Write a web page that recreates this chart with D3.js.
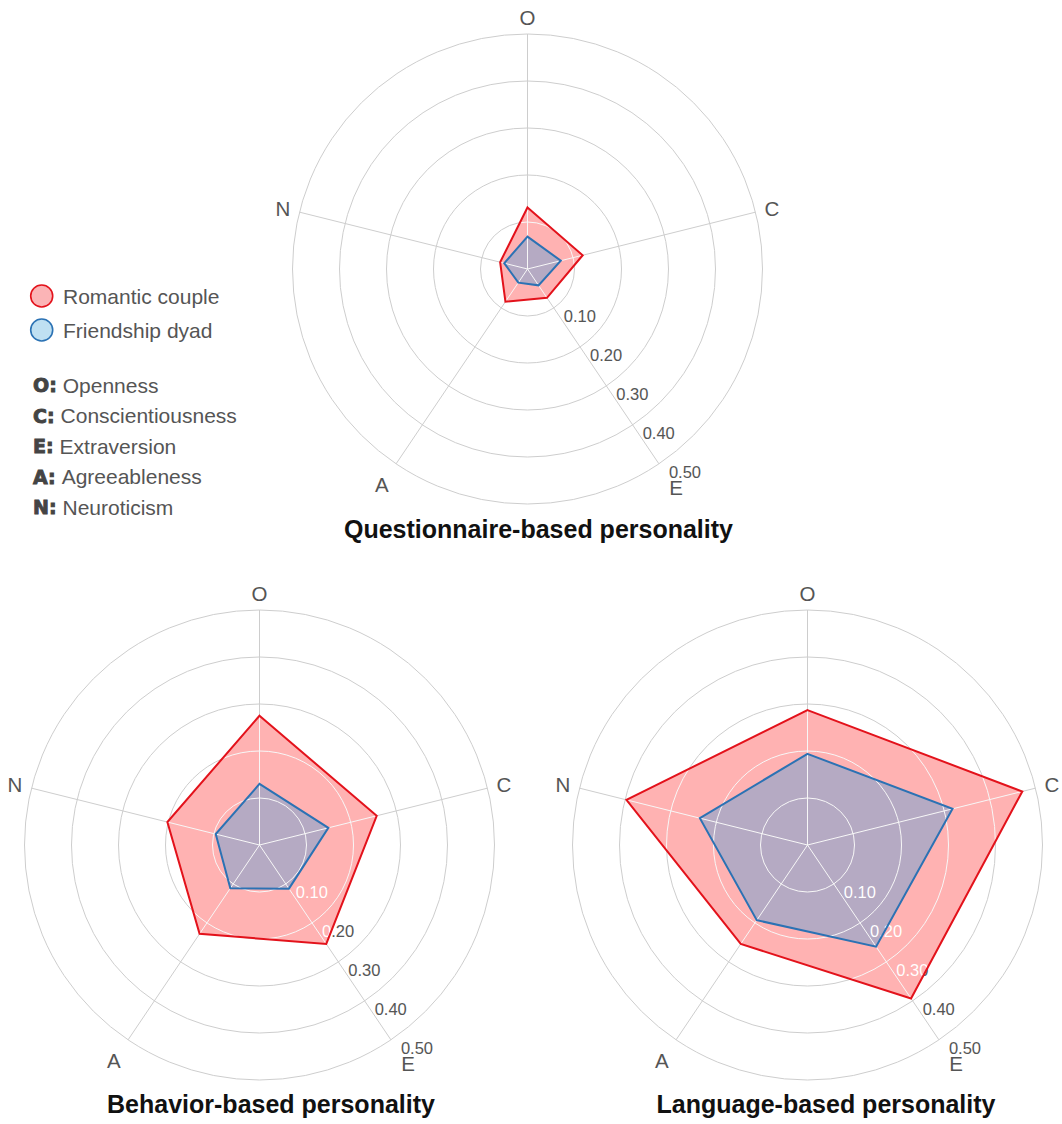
<!DOCTYPE html>
<html>
<head>
<meta charset="utf-8">
<script src="https://cdn.jsdelivr.net/npm/d3@7"></script>
<style>
  html, body { margin: 0; padding: 0; background: #ffffff; }
  svg { display: block; font-family: "Liberation Sans", Arial, Helvetica, sans-serif; }
</style>
</head>
<body>
<svg id="chart" width="1062" height="1124"></svg>
<script>
// ---- data ----
const traits = ["O", "C", "E", "A", "N"];
const traitNames = ["Openness", "Conscientiousness", "Extraversion", "Agreeableness", "Neuroticism"];
const seriesNames = ["Romantic couple", "Friendship dyad"];
const tickValues = [0.1, 0.2, 0.3, 0.4, 0.5];
const tickLabels = ["0.10", "0.20", "0.30", "0.40", "0.50"];
const panelTitles = ["Questionnaire-based personality", "Behavior-based personality", "Language-based personality"];

const questionnaireRomantic   = [0.131, 0.121, 0.074, 0.084, 0.060];
const questionnaireFriendship = [0.069, 0.073, 0.042, 0.035, 0.051];
const behaviorRomantic        = [0.275, 0.257, 0.254, 0.228, 0.202];
const behaviorFriendship      = [0.130, 0.151, 0.112, 0.111, 0.096];
const languageRomantic        = [0.287, 0.471, 0.394, 0.254, 0.397];
const languageFriendship      = [0.194, 0.318, 0.261, 0.193, 0.236];

// ---- layout & style ----
const R = 235;
const axisAngleDeg = [0, 76, 146, 214, 284];
const gridColor = "#cdcdcd";
const gridInside = "#f7f7f7";
const textGray = "#555555";
const seriesStyle = [
  { fill: "rgba(255,0,0,0.30)", stroke: "#e3121b", legendFill: "#fbb4b6" },
  { fill: "rgba(90,160,215,0.45)", stroke: "#2b72b4", legendFill: "#bfe0f2" }
];

const panels = [
  { title: panelTitles[0], cx: 527.5, cy: 269, tx: 538.5, ty: 538, series: [questionnaireRomantic, questionnaireFriendship] },
  { title: panelTitles[1], cx: 259.5, cy: 845, tx: 271,   ty: 1113, series: [behaviorRomantic, behaviorFriendship] },
  { title: panelTitles[2], cx: 807.5, cy: 845, tx: 826,   ty: 1113, series: [languageRomantic, languageFriendship] }
];

const svg = d3.select("#chart");
const defs = svg.append("defs");

const rScale = d3.scaleLinear().domain([0, 0.5]).range([0, R]);
const angleScale = d3.scaleOrdinal()
  .domain(traits)
  .range(axisAngleDeg.map(d => d * Math.PI / 180));

const radarLine = d3.lineRadial()
  .angle((d, i) => angleScale(traits[i]))
  .radius(d => rScale(d))
  .curve(d3.curveLinearClosed);

const polar = (a, rad) => [rad * Math.sin(a), -rad * Math.cos(a)];
const tickAxis = traits[2]; // value labels run along the E spoke

// Paint that is one colour outside the outer area and another inside it,
// so grid lines and value labels turn white where they cross the filled area.
function twoTonePaint(id, outside, inside, areaPath) {
  const half = 420;
  const pat = defs.append("pattern")
    .attr("id", id)
    .attr("patternUnits", "userSpaceOnUse")
    .attr("x", -half).attr("y", -half)
    .attr("width", 2 * half).attr("height", 2 * half);
  pat.append("rect")
    .attr("width", 2 * half).attr("height", 2 * half)
    .attr("fill", outside);
  pat.append("path")
    .attr("transform", `translate(${half},${half})`)
    .attr("d", areaPath)
    .attr("fill", inside);
  return `url(#${id})`;
}

// distance of each axis letter from the centre
const letterRadius = a => R + 17 + 10 * Math.max(0, -Math.cos(a));

panels.forEach((p, pi) => {
  const g = svg.append("g").attr("transform", `translate(${p.cx},${p.cy})`);
  const outer = radarLine(p.series[0]);
  const gridPaint = twoTonePaint("grid-paint-" + pi, gridColor, gridInside, outer);
  const labelPaint = twoTonePaint("label-paint-" + pi, textGray, "#ffffff", outer);

  // filled areas
  p.series.forEach((vals, si) => {
    g.append("path")
      .attr("d", radarLine(vals))
      .attr("fill", seriesStyle[si].fill)
      .attr("stroke", "none");
  });

  // rings
  g.selectAll("circle.ring")
    .data(tickValues)
    .join("circle")
    .attr("class", "ring")
    .attr("r", d => rScale(d))
    .attr("fill", "none")
    .attr("stroke", gridPaint)
    .attr("stroke-width", 1);

  // spokes
  g.selectAll("line.spoke")
    .data(traits)
    .join("line")
    .attr("class", "spoke")
    .attr("x1", 0).attr("y1", 0)
    .attr("x2", d => polar(angleScale(d), R)[0])
    .attr("y2", d => polar(angleScale(d), R)[1])
    .attr("stroke", gridPaint)
    .attr("stroke-width", 1);

  // value labels along the E spoke
  g.selectAll("text.tick")
    .data(tickValues)
    .join("text")
    .attr("class", "tick")
    .attr("x", d => polar(angleScale(tickAxis), rScale(d))[0] + 10)
    .attr("y", d => polar(angleScale(tickAxis), rScale(d))[1] + 8)
    .attr("dominant-baseline", "central")
    .attr("font-size", 16.5)
    .attr("fill", labelPaint)
    .text((d, i) => tickLabels[i]);

  // outlines
  p.series.forEach((vals, si) => {
    g.append("path")
      .attr("d", radarLine(vals))
      .attr("fill", "none")
      .attr("stroke", seriesStyle[si].stroke)
      .attr("stroke-width", 2)
      .attr("stroke-linejoin", "miter");
  });

  // axis letters
  g.selectAll("text.axis")
    .data(traits)
    .join("text")
    .attr("class", "axis")
    .attr("x", d => { const a = angleScale(d); return polar(a, letterRadius(a))[0] + (d === "E" ? 3 : 0); })
    .attr("y", d => { const a = angleScale(d); return polar(a, letterRadius(a))[1] + (d === "E" ? 3 : 0); })
    .attr("text-anchor", "middle")
    .attr("dominant-baseline", "central")
    .attr("font-size", 20.5)
    .attr("fill", textGray)
    .text(d => d);

  // panel title
  svg.append("text")
    .attr("x", p.tx)
    .attr("y", p.ty)
    .attr("text-anchor", "middle")
    .attr("font-size", 25)
    .attr("font-weight", "bold")
    .attr("fill", "#111111")
    .text(p.title);
});

// ---- legend ----
const legend = svg.append("g");
const legendY = d3.scalePoint().domain(seriesNames).range([296, 330]);
seriesNames.forEach((name, si) => {
  legend.append("circle")
    .attr("cx", 41.7)
    .attr("cy", legendY(name))
    .attr("r", 11)
    .attr("fill", seriesStyle[si].legendFill)
    .attr("stroke", seriesStyle[si].stroke)
    .attr("stroke-width", 1.6);
  legend.append("text")
    .attr("x", 63)
    .attr("y", legendY(name))
    .attr("dominant-baseline", "central")
    .attr("font-size", 21)
    .attr("fill", textGray)
    .text(name);
});

const keyY = d3.scalePoint().domain(traits).range([385, 507]);
traits.forEach((t, i) => {
  const key = legend.append("text")
    .attr("x", 33)
    .attr("y", keyY(t))
    .attr("dominant-baseline", "central")
    .attr("font-family", "'DejaVu Sans', sans-serif")
    .attr("font-weight", "bold")
    .attr("font-size", 19)
    .attr("fill", "#444444")
    .attr("stroke", "#444444")
    .attr("stroke-width", 0.9)
    .text(t + ":");
  const w = key.node().getComputedTextLength();
  legend.append("text")
    .attr("x", 33 + w + 6)
    .attr("y", keyY(t))
    .attr("dominant-baseline", "central")
    .attr("font-size", 21)
    .attr("fill", textGray)
    .text(traitNames[i]);
});
</script>
</body>
</html>
